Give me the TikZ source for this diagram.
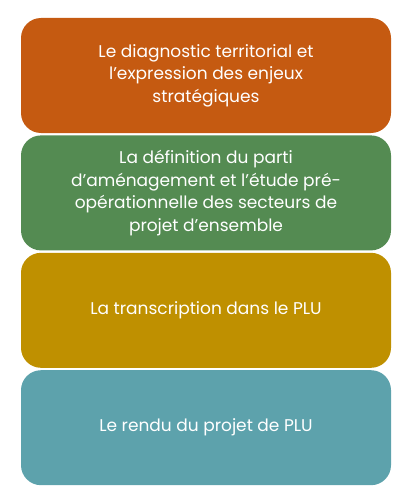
\documentclass[tikz,border=0pt]{standalone}
\usepackage{fontspec}
\setmainfont{Poppins}
\usepackage{xcolor}
\usetikzlibrary{positioning}
\definecolor{rouille}{RGB}{197,90,17}
\definecolor{vert}{RGB}{84,139,82}
\definecolor{ocre}{RGB}{191,144,0}
\definecolor{bleu}{RGB}{93,162,172}

\begin{document}
\begin{tikzpicture}[x=1pt, y=1pt, node distance=2pt]
\tikzstyle{etape} = [rectangle, rounded corners=20pt, minimum width=370pt, minimum height=115pt,
  text=white, align=center, font=\fontsize{17}{22.5}\selectfont, inner sep=0pt]
\useasboundingbox (0,0) rectangle (412,-495);
\node[etape, fill=rouille] (diag) at (206,-75.5) {Le diagnostic territorial et\\l'expression des enjeux\\stratégiques};
\node[etape, fill=vert, below=of diag] (parti) {La définition du parti\\d'aménagement et l'étude pré-\\opérationnelle des secteurs de\\projet d'ensemble};
\node[etape, fill=ocre, below=of parti] (transc) {La transcription dans le PLU};
\node[etape, fill=bleu, below=of transc] (rendu) {Le rendu du projet de PLU};
\end{tikzpicture}
\end{document}
